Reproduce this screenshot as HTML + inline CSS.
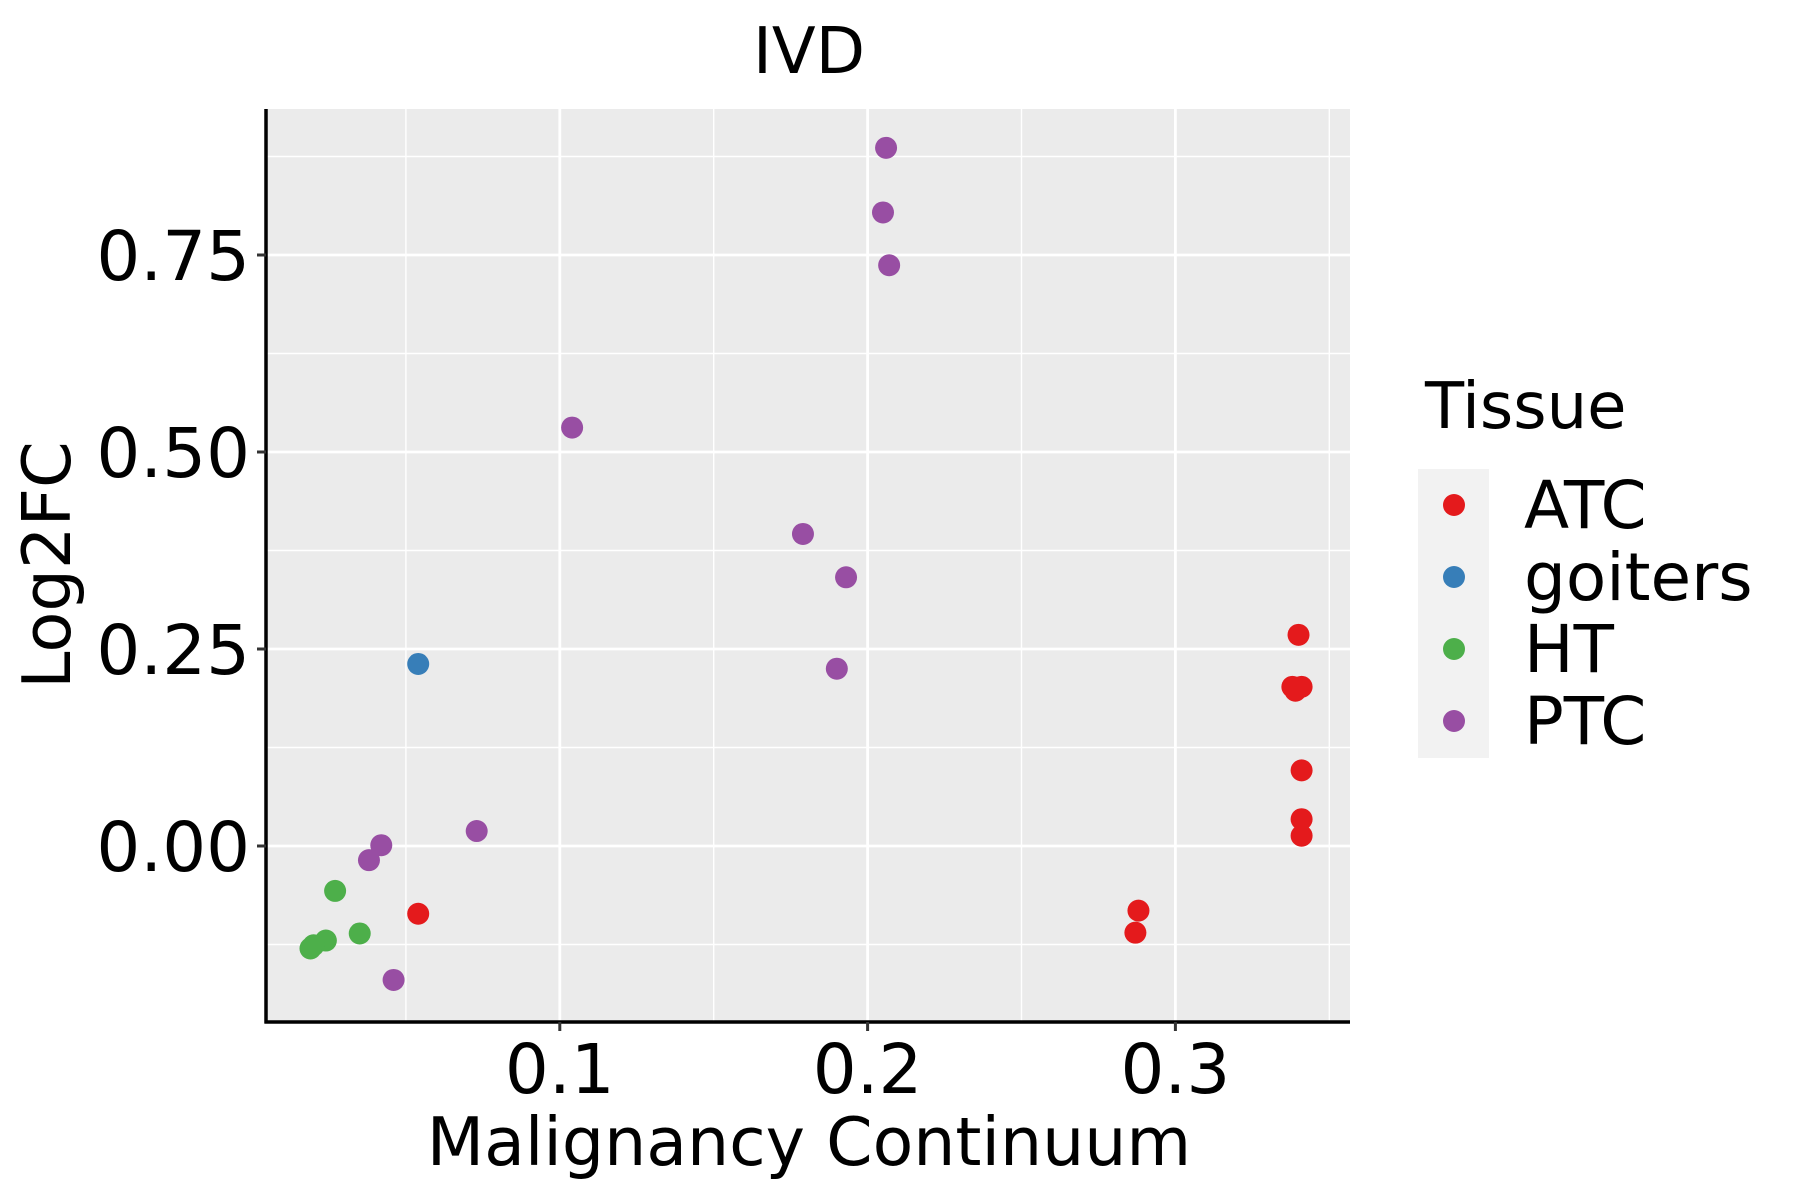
<!DOCTYPE html>
<html><head><meta charset="utf-8"><style>
html,body{margin:0;padding:0;background:#fff;}
svg{display:block;font-family:"DejaVu Sans","Liberation Sans",sans-serif;}
</style></head><body>
<svg id="chart" width="1800" height="1200" viewBox="0 0 1800 1200" xmlns="http://www.w3.org/2000/svg">
<rect x="0" y="0" width="1800" height="1200" fill="#fff"/>
<text x="809" y="73" font-size="64" text-anchor="middle">IVD</text>
<rect x="266" y="109" width="1084" height="913" fill="#ebebeb"/>
<g id="grid"></g>
<g id="points"></g>
<line x1="266" y1="109" x2="266" y2="1023.5" stroke="#000" stroke-width="3.5"/>
<line x1="264.5" y1="1022" x2="1350" y2="1022" stroke="#000" stroke-width="3.5"/>
<g id="axes"></g>
<text x="809" y="1165" font-size="66.5" text-anchor="middle">Malignancy Continuum</text>
<text transform="translate(70,565) rotate(-90)" font-size="67" text-anchor="middle">Log2FC</text>
<text x="1425" y="428" font-size="64">Tissue</text>
<rect x="1418" y="469" width="71" height="289" fill="#f2f2f2"/>
<g id="legend"></g>
</svg>
<script>
const xTicks = [0.1, 0.2, 0.3];
const xMinor = [0.05, 0.15, 0.25, 0.35];
const yTicks = [0, 0.25, 0.5, 0.75];
const yTickLabels = ["0.00", "0.25", "0.50", "0.75"];
const yMinor = [-0.125, 0.125, 0.375, 0.625, 0.875];
const groups = ["ATC", "goiters", "HT", "PTC"];
const colors = ["#e41a1c", "#377eb8", "#4daf4a", "#984ea3"];
const atcX = [0.054, 0.288, 0.287, 0.340, 0.338, 0.341, 0.339, 0.341, 0.341, 0.341];
const atcY = [-0.086, -0.082, -0.110, 0.268, 0.202, 0.202, 0.197, 0.096, 0.034, 0.013];
const goitersX = [0.054];
const goitersY = [0.231];
const htX = [0.027, 0.035, 0.024, 0.020, 0.019];
const htY = [-0.057, -0.111, -0.120, -0.126, -0.130];
const ptcX = [0.206, 0.205, 0.207, 0.104, 0.179, 0.193, 0.190, 0.073, 0.042, 0.038, 0.046];
const ptcY = [0.886, 0.804, 0.737, 0.531, 0.396, 0.341, 0.225, 0.019, 0.001, -0.018, -0.170];

const NS = "http://www.w3.org/2000/svg";
const X0 = 266, X1 = 1350, Y0 = 109, Y1 = 1022;
function xs(v){ return 252 + 3078 * v; }
function ys(v){ return 846 - 788 * v; }
function mk(tag, attrs, parent){
  const e = document.createElementNS(NS, tag);
  for (const k in attrs) e.setAttribute(k, attrs[k]);
  parent.appendChild(e);
  return e;
}
const grid = document.getElementById("grid");
xMinor.forEach(v => {
  const l = mk("line", {x1: xs(v), x2: xs(v), y1: Y0, y2: Y1, stroke: "#fff", "stroke-width": 1.4}, grid);
  
  
});
yMinor.forEach(v => {
  const l = mk("line", {x1: X0, x2: X1, y1: ys(v), y2: ys(v), stroke: "#fff", "stroke-width": 1.4}, grid);
  
  
});
xTicks.forEach(v => {
  const l = mk("line", {x1: xs(v), x2: xs(v), y1: Y0, y2: Y1, stroke: "#fff", "stroke-width": 2.8}, grid);
  
  
});
yTicks.forEach(v => {
  const l = mk("line", {x1: X0, x2: X1, y1: ys(v), y2: ys(v), stroke: "#fff", "stroke-width": 2.8}, grid);
  
  
});
const axes = document.getElementById("axes");
xTicks.forEach(v => {
  const t = mk("line", {x1: xs(v), x2: xs(v), y1: 1022, y2: 1031, stroke: "#333", "stroke-width": 3}, axes);
  
  
  const lb = mk("text", {x: xs(v), y: 1093, "font-size": 69, "text-anchor": "middle"}, axes);
  lb.textContent = String(v);
  
  
});
yTicks.forEach((v, i) => {
  const t = mk("line", {x1: 257, x2: 266, y1: ys(v), y2: ys(v), stroke: "#333", "stroke-width": 3}, axes);
  
  
  const lb = mk("text", {x: 250, y: ys(v) + 25, "font-size": 69, "text-anchor": "end"}, axes);
  lb.textContent = yTickLabels[i];
  
  
});
const pts = document.getElementById("points");
const series = [[atcX, atcY], [goitersX, goitersY], [htX, htY], [ptcX, ptcY]];
series.forEach((s, gi) => {
  s[0].forEach((xv, i) => {
    const c = mk("circle", {cx: xs(xv), cy: ys(s[1][i]), r: 11, fill: colors[gi]}, pts);
    
    
  });
});
const leg = document.getElementById("legend");
groups.forEach((g, i) => {
  const cy = 505 + i * 72;
  const c = mk("circle", {cx: 1454, cy: cy, r: 11, fill: colors[i]}, leg);
  
  
  const t = mk("text", {x: 1524, y: cy + 23, "font-size": 66}, leg);
  t.textContent = g;
  
  
});
</script>
</body></html>
